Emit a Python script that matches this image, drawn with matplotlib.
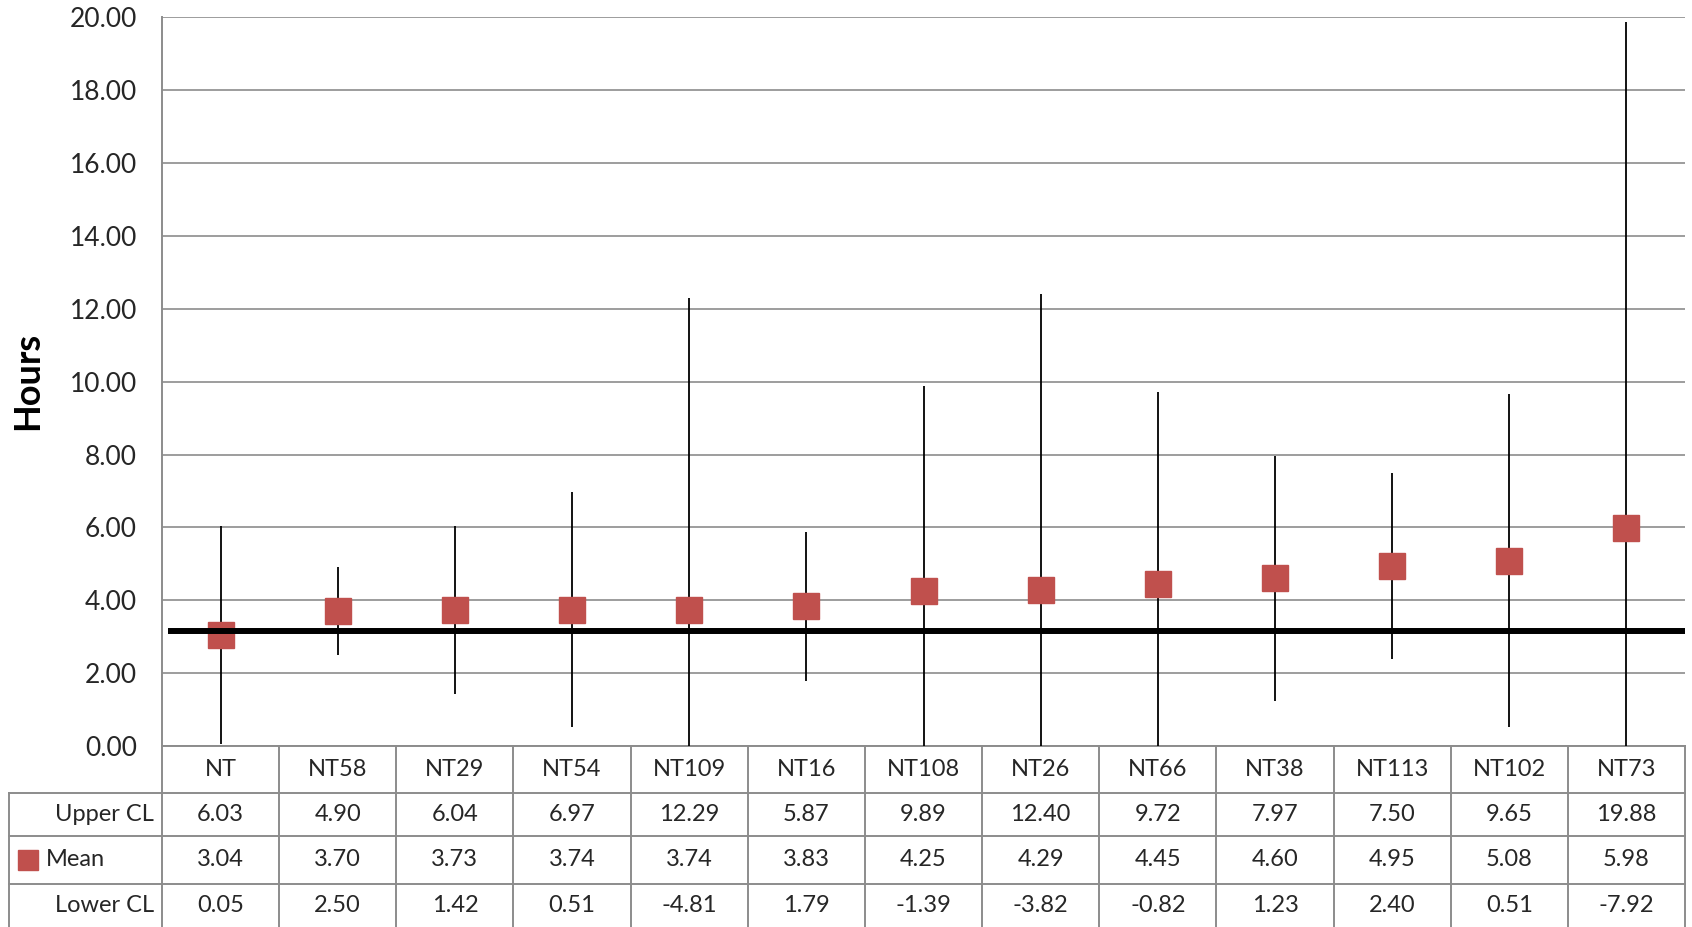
import matplotlib
matplotlib.use("Agg")
import matplotlib.pyplot as plt
from matplotlib.transforms import blended_transform_factory

plt.rcParams['font.family'] = ['Lato', 'DejaVu Sans']

categories = ["NT", "NT58", "NT29", "NT54", "NT109", "NT16", "NT108", "NT26",
              "NT66", "NT38", "NT113", "NT102", "NT73"]
upper_cl = [6.03, 4.90, 6.04, 6.97, 12.29, 5.87, 9.89, 12.40, 9.72, 7.97, 7.50, 9.65, 19.88]
mean = [3.04, 3.70, 3.73, 3.74, 3.74, 3.83, 4.25, 4.29, 4.45, 4.60, 4.95, 5.08, 5.98]
lower_cl = [0.05, 2.50, 1.42, 0.51, -4.81, 1.79, -1.39, -3.82, -0.82, 1.23, 2.40, 0.51, -7.92]
reference_level = 3.15
row_labels = ["Upper CL", "Mean", "Lower CL"]
y_ticks = [0, 2, 4, 6, 8, 10, 12, 14, 16, 18, 20]

W, H = 1692, 927
fig = plt.figure(figsize=(W / 100, H / 100), dpi=100)
ax_left, ax_right, ax_top, ax_bottom = 162, 1685, 17.3, 746
ax = fig.add_axes([ax_left / W, 1 - ax_bottom / H, (ax_right - ax_left) / W, (ax_bottom - ax_top) / H])
axh = ax_bottom - ax_top
axw = ax_right - ax_left

red = '#c0504d'
grid_c = '#8c8c8c'
txt_c = '#262626'

x = list(range(len(categories)))
ax.vlines(x, lower_cl, upper_cl, colors='black', linewidth=1.3, zorder=3)
ax.plot(x, mean, linestyle='none', marker='s', markersize=19, color=red, zorder=4)
ax.hlines(reference_level, -0.45, len(categories) - 0.5, colors='black', linewidth=4.3, zorder=5)

ax.set_xlim(-0.5, len(categories) - 0.5)
ax.set_ylim(0, 20)
ax.set_yticks(y_ticks)
ax.set_yticklabels([f"{v:.2f}" for v in y_ticks], fontsize=19, color=txt_c)
ax.tick_params(axis='y', length=0, pad=18)
ax.set_xticks([])
ax.yaxis.grid(True, color=grid_c, linewidth=1.2)
ax.set_axisbelow(True)
for s in ['top', 'right']:
    ax.spines[s].set_visible(False)
for s in ['left', 'bottom']:
    ax.spines[s].set_color(grid_c)
    ax.spines[s].set_linewidth(1.4)

fig.text(28 / W, 1 - 381 / H, "Hours", rotation=90, fontsize=26, fontweight='bold',
         ha='center', va='center', color='black')

# data table
bt = blended_transform_factory(ax.transData, ax.transAxes)
rows_px = [0, 47, 90, 138, 181]
yf = [-r / axh for r in rows_px]
lab_left = (9 - ax_left) / axw
lc = dict(color=grid_c, linewidth=1.4, clip_on=False)
n = len(categories)
# vertical column borders
for i in range(n + 1):
    ax.plot([i - 0.5, i - 0.5], [yf[0], yf[-1]], transform=bt, **lc)
# row label column left border
ax.plot([lab_left, lab_left], [yf[1], yf[-1]], transform=ax.transAxes, **lc)
# horizontal borders
for k in (1, 2, 3):
    ax.plot([lab_left, 1], [yf[k], yf[k]], transform=ax.transAxes, **lc)

fs_tab = 17
for i, c in enumerate(categories):
    ax.text(i, (yf[0] + yf[1]) / 2, c, transform=bt, ha='center', va='center', fontsize=fs_tab, color=txt_c)
    for k, vals in enumerate([upper_cl, mean, lower_cl]):
        ax.text(i, (yf[k + 1] + yf[k + 2]) / 2, f"{vals[i]:.2f}", transform=bt,
                ha='center', va='center', fontsize=fs_tab, color=txt_c)

label_right = (154 - ax_left) / axw
ax.text(label_right, (yf[1] + yf[2]) / 2, row_labels[0], transform=ax.transAxes,
        ha='right', va='center', fontsize=fs_tab, color=txt_c)
ax.text(label_right, (yf[3] + yf[4]) / 2, row_labels[2], transform=ax.transAxes,
        ha='right', va='center', fontsize=fs_tab, color=txt_c)
ax.plot([(28 - ax_left) / axw], [(yf[2] + yf[3]) / 2], marker='s', markersize=14, color=red,
        transform=ax.transAxes, clip_on=False, linestyle='none')
ax.text((46 - ax_left) / axw, (yf[2] + yf[3]) / 2, row_labels[1], transform=ax.transAxes,
        ha='left', va='center', fontsize=fs_tab, color=txt_c)

fig.savefig("out.png", dpi=100)
